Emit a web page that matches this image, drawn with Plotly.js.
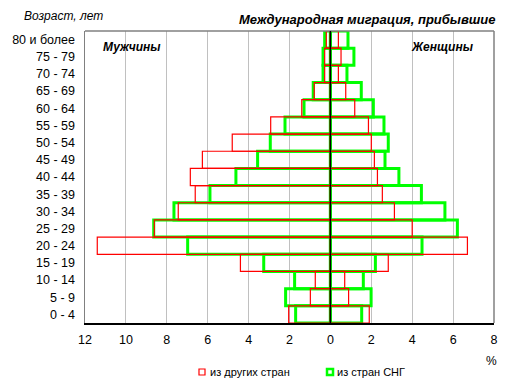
<!DOCTYPE html>
<html><head><meta charset="utf-8">
<script src="https://cdn.plot.ly/plotly-3.0.1.min.js"></script>
<style>body{margin:0;padding:0;background:#fff}#chart{width:517px;height:390px}</style>
</head><body><div id="chart"></div>
<script>
const ageGroups = ["0 - 4","5 - 9","10 - 14","15 - 19","20 - 24","25 - 29","30 - 34","35 - 39","40 - 44","45 - 49","50 - 54","55 - 59","60 - 64","65 - 69","70 - 74","75 - 79","80 и более"];
// percent values (men shown to the left)
const menOther   = [2.04, 0.98, 0.74, 4.40, 11.4, 8.61, 7.44, 6.61, 6.85, 6.26, 4.80, 2.92, 1.40, 0.79, 0.28, 0.28, 0.20];
const womenOther = [1.90, 0.89, 0.70, 2.83, 6.70, 4.00, 3.13, 2.54, 2.30, 2.15, 2.00, 1.86, 1.19, 0.75, 0.39, 0.52, 0.39];
const menCIS     = [1.70, 2.19, 1.75, 3.26, 6.98, 8.64, 7.65, 5.89, 4.62, 3.56, 2.94, 2.22, 1.29, 0.84, 0.36, 0.36, 0.28];
const womenCIS   = [1.53, 1.99, 1.61, 2.20, 4.48, 6.21, 5.60, 4.45, 3.35, 2.67, 2.83, 2.62, 2.10, 1.51, 0.81, 1.15, 0.86];
const seriesNames = ["из других стран", "из стран СНГ"];
const xTicks = [-12,-10,-8,-6,-4,-2,0,2,4,6,8];

const RED = "#ff0000", GREEN = "#00ff00";
function bar(vals, sign, color, lw, name){
  return {type:"bar", orientation:"h", y: ageGroups, x: vals.map(v=>sign*v),
    name: name, showlegend: false, width: 1,
    marker:{color:"rgba(0,0,0,0)", line:{color:color, width:lw}},
    hoverinfo:"skip"};
}
const data = [
  bar(menCIS, -1, GREEN, 3, seriesNames[1]),
  bar(womenCIS, 1, GREEN, 3, seriesNames[1]),
  bar(menOther, -1, RED, 1.2, seriesNames[0]),
  bar(womenOther, 1, RED, 1.2, seriesNames[0])
];
const layout = {
  width:517, height:390,
  margin:{l:85, r:23, t:31, b:67},
  paper_bgcolor:"#fff", plot_bgcolor:"#fff",
  barmode:"overlay", bargap:0, showlegend:false,
  font:{family:"Liberation Sans, Arial, sans-serif", size:12, color:"#000"},
  xaxis:{range:[-12,8], tickvals:xTicks, ticktext:xTicks.map(v=>String(Math.abs(v))),
    showgrid:true, gridcolor:"#c0c0c0", gridwidth:1,
    zeroline:false,
    showline:true, linecolor:"#000", linewidth:1.5, mirror:false,
    ticks:"", ticklen:0, ticklabelstandoff:4, tickfont:{size:12.5}, fixedrange:true},
  yaxis:{type:"category", categoryorder:"array", categoryarray:ageGroups,
    showgrid:false, zeroline:false, showline:true, linecolor:"#808080", linewidth:1.5,
    ticks:"", ticklabelstandoff:6, tickfont:{size:12.5}, fixedrange:true},
  shapes:[
    {type:"line", xref:"paper", yref:"paper", x0:0, x1:1, y0:1, y1:1, line:{color:"#808080", width:1.5}},
    {type:"line", xref:"paper", yref:"paper", x0:1, x1:1, y0:0, y1:1, line:{color:"#808080", width:1.5}},
    {type:"line", xref:"x", yref:"paper", x0:0, x1:0, y0:0, y1:1, line:{color:"#000", width:1.5}, layer:"above"},
    {type:"rect", xref:"paper", yref:"paper", x0:0.2787, x1:0.2934, y0:-0.178, y1:-0.1575, line:{color:RED, width:1.2}, fillcolor:"rgba(0,0,0,0)"},
    {type:"rect", xref:"paper", yref:"paper", x0:0.5917, x1:0.6064, y0:-0.178, y1:-0.1575, line:{color:GREEN, width:2.5}, fillcolor:"rgba(0,0,0,0)"}
  ],
  annotations:[
    {text:"<b><i>Международная миграция, прибывшие</i></b>", xref:"paper", yref:"paper", x:0.69, y:1, yshift:12, xanchor:"center", yanchor:"middle", showarrow:false, font:{size:13}},
    {text:"<i>Возраст, лет</i>", xref:"paper", yref:"paper", x:0, xshift:-63, y:1, yshift:15, xanchor:"left", yanchor:"middle", showarrow:false, font:{size:12}},
    {text:"<b><i>Мужчины</i></b>", xref:"paper", yref:"paper", x:0.04, y:0.945, xanchor:"left", yanchor:"middle", showarrow:false, font:{size:12}},
    {text:"<b><i>Женщины</i></b>", xref:"paper", yref:"paper", x:0.955, y:0.945, xanchor:"right", yanchor:"middle", showarrow:false, font:{size:12}},
    {text:"%", xref:"paper", yref:"paper", x:0.9927, y:-0.130, xanchor:"center", yanchor:"middle", showarrow:false, font:{size:12}},
    {text:seriesNames[0], xref:"paper", yref:"paper", x:0.3007, y:-0.1678, xanchor:"left", yanchor:"middle", showarrow:false, font:{size:11}},
    {text:seriesNames[1], xref:"paper", yref:"paper", x:0.6112, y:-0.1678, xanchor:"left", yanchor:"middle", showarrow:false, font:{size:11}}
  ]
};
Plotly.newPlot("chart", data, layout, {displayModeBar:false, staticPlot:true});
</script></body></html>
